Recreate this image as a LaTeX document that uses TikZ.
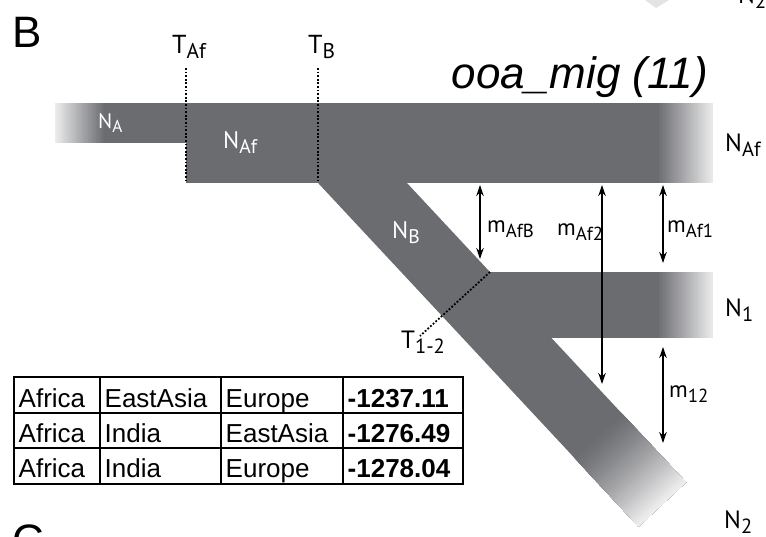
\documentclass[tikz,border=0pt]{standalone}
\usepackage{fontspec}
\setmainfont{Liberation Sans}
\newfontfamily\labfont{PT Sans}
\usepackage{graphicx}
\usetikzlibrary{arrows.meta}
\definecolor{bandgrey}{RGB}{107,108,112}
% lowered, smaller subscript for population labels
\newcommand\lsub[1]{\raisebox{-0.22em}{\scalebox{0.82}{#1}}}

\begin{document}
\begin{tikzpicture}[x=1pt,y=-1pt,
  band/.style={fill=bandgrey},
  tlabel/.style={anchor=base west, inner sep=0, font=\labfont\fontsize{26}{26}\selectfont},
  inlabel/.style={anchor=base west, inner sep=0, text=white, font=\labfont\fontsize{24}{24}\selectfont},
  plabel/.style={anchor=base west, inner sep=0, font=\labfont\fontsize{25}{25}\selectfont},
  mlabel/.style={anchor=base west, inner sep=0, font=\labfont\fontsize{23}{23}\selectfont},
  panel/.style={anchor=base west, inner sep=0, font=\fontsize{44}{44}\selectfont},
  migarrow/.style={{Stealth[length=11pt,width=7.5pt]}-{Stealth[length=11pt,width=7.5pt]}, line width=1.3pt},
  epoch/.style={line width=1.8pt, dash pattern=on 1.8pt off 1.8pt},
  cell/.style={anchor=base west, inner sep=0, font=\fontsize{26}{26}\selectfont},
  tablegrid/.style={line width=1.3pt}
]
\clip (0,0) rectangle (766,536);
\fill[white] (0,0) rectangle (766,536);

% faded tip of the previous panel's lineage
\fill[bandgrey!18] (645,0) -- (669,0) -- (656,8) -- cycle;
\node[plabel] (prevN2) at (738,3) {N\lsub{2}};

% N2 lineage: diagonal band in its own frame, fading towards its end
\begin{scope}[shift={(638.5,526.6)}, rotate=-47]
  \fill[band] (-471,0) rectangle (-80,-65);
  \foreach \i in {0,...,47} {
    \pgfmathsetmacro\a{-96+2*\i}
    \pgfmathtruncatemacro\c{100-88*(\i/47)^1.3}
    \fill[bandgrey!\c] (\a,0) rectangle (0,-65);
  }
\end{scope}

% ancestral band, fading to the left
\fill[band] (55,103) rectangle (187,143);
\foreach \i in {0,...,34} {
  \pgfmathsetmacro\a{105-1.45*\i}
  \pgfmathtruncatemacro\c{100-88*\i/34}
  \fill[bandgrey!\c] (55,103) rectangle (\a,143);
}

% African band, fading to the right
\fill[band] (186,103) rectangle (668,183);
\foreach \i in {0,...,27} {
  \pgfmathsetmacro\a{657+2*\i}
  \pgfmathtruncatemacro\c{100-85*\i/27}
  \fill[bandgrey!\c] (\a,103) rectangle (713,183);
}

% N1 band, fading to the right
\fill[band] (470,272) rectangle (668,338);
\foreach \i in {0,...,27} {
  \pgfmathsetmacro\a{657+2*\i}
  \pgfmathtruncatemacro\c{100-85*\i/27}
  \fill[bandgrey!\c] (\a,272) rectangle (713,338);
}

% epoch boundaries
\coordinate (tAfTop) at (186,68);
\coordinate (tAfBot) at (186,183);
\coordinate (tBTop) at (318,68);
\coordinate (tBBot) at (318,183);
\coordinate (t12a) at (490,272);
\coordinate (t12b) at (420,336);
\draw[epoch] (tAfTop) -- (tAfBot);
\draw[epoch] (tBTop) -- (tBBot);
\draw[epoch] (t12a) -- (t12b);

% migration arrows
\coordinate (mAfBtop) at (480,185);
\coordinate (mAfBbot) at (480,259);
\coordinate (mAf2top) at (602,185);
\coordinate (mAf2bot) at (602,384);
\coordinate (mAf1top) at (663,185);
\coordinate (mAf1bot) at (663,263);
\coordinate (m12top) at (663,347);
\coordinate (m12bot) at (663,443);
\draw[migarrow] (mAfBtop) -- (mAfBbot);
\draw[migarrow] (mAf2top) -- (mAf2bot);
\draw[migarrow] (mAf1top) -- (mAf1bot);
\draw[migarrow] (m12top) -- (m12bot);

% panel letters and title
\node[panel] (panelB) at (12,47) {B};
\node[panel] (panelC) at (12,555) {C};
\node[anchor=base east, inner sep=0, font=\itshape\fontsize{44}{44}\selectfont] (title) at (708,88) {ooa\_mig (11)};

% labels
\node[tlabel] (TAf) at (172,53) {T\lsub{Af}};
\node[tlabel] (TB) at (308,53) {T\lsub{B}};
\node[inlabel, font=\labfont\fontsize{21}{21}\selectfont] (NA) at (98,128) {N\lsub{A}};
\node[inlabel] (NAfin) at (223,148) {N\lsub{Af}};
\node[inlabel] (NB) at (392,238) {N\lsub{B}};
\node[plabel] (NAf) at (725,151) {N\lsub{Af}};
\node[plabel] (N1) at (725,316) {N\lsub{1}};
\node[plabel] (N2) at (724,528) {N\lsub{2}};
\node[plabel] (T12) at (401,348) {T\lsub{1-2}};
\node[mlabel] (mAfB) at (487,232) {m\lsub{AfB}};
\node[mlabel] (mAf2) at (557,235) {m\lsub{Af2}};
\node[mlabel] (mAf1) at (667,232) {m\lsub{Af1}};
\node[mlabel] (m12) at (669,397) {m\lsub{12}};

% likelihood table
\draw[tablegrid] (14,377) rectangle (463,484);
\draw[tablegrid] (14,413) -- (463,413);
\draw[tablegrid] (14,448) -- (463,448);
\draw[tablegrid] (100,377) -- (100,484);
\draw[tablegrid] (221,377) -- (221,484);
\draw[tablegrid] (343,377) -- (343,484);

\node[cell] (r1c1) at (18.5,407) {Africa};
\node[cell] (r1c2) at (104.5,407) {EastAsia};
\node[cell] (r1c3) at (225.5,407) {Europe};
\node[cell, font=\bfseries\fontsize{26}{26}\selectfont] (r1c4) at (347.5,407) {-1237.11};
\node[cell] (r2c1) at (18.5,442) {Africa};
\node[cell] (r2c2) at (104.5,442) {India};
\node[cell] (r2c3) at (225.5,442) {EastAsia};
\node[cell, font=\bfseries\fontsize{26}{26}\selectfont] (r2c4) at (347.5,442) {-1276.49};
\node[cell] (r3c1) at (18.5,477) {Africa};
\node[cell] (r3c2) at (104.5,477) {India};
\node[cell] (r3c3) at (225.5,477) {Europe};
\node[cell, font=\bfseries\fontsize{26}{26}\selectfont] (r3c4) at (347.5,477) {-1278.04};
\end{tikzpicture}
\end{document}
